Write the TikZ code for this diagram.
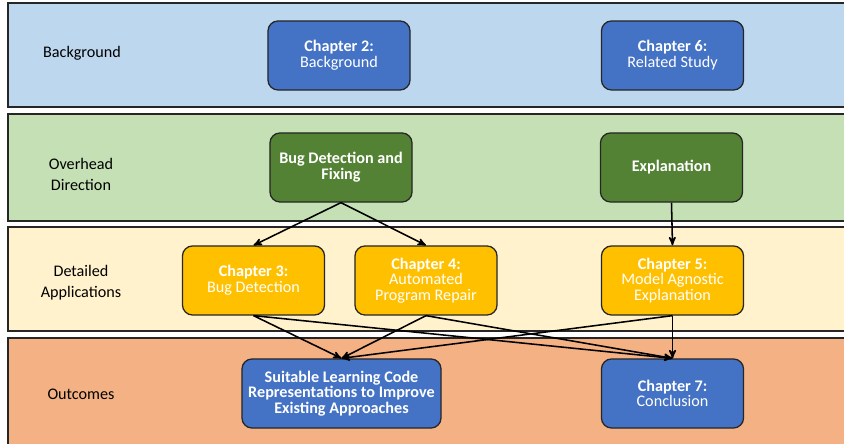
\documentclass[tikz,border=0pt]{standalone}
\usepackage{fontspec}
\setmainfont{Carlito}
\usetikzlibrary{arrows}

\definecolor{bandblue}{HTML}{BDD7EE}
\definecolor{bandgreen}{HTML}{C5E0B4}
\definecolor{bandyellow}{HTML}{FFF2CC}
\definecolor{bandorange}{HTML}{F4B183}
\definecolor{boxblue}{HTML}{4472C4}
\definecolor{boxgreen}{HTML}{548235}
\definecolor{boxgold}{HTML}{FFC000}
\definecolor{edgegray}{HTML}{262626}

\begin{document}
\begin{tikzpicture}[x=0.025cm,y=-0.025cm,->,>=stealth',line width=1.1pt,
	band/.style={draw=edgegray,line width=1.2pt},
	main node/.style={rectangle,rounded corners=0.25cm,draw=edgegray,line width=0.9pt,text=white,align=center,minimum width=3.55cm,minimum height=1.725cm,font=\fontsize{11.5}{11.2}\selectfont},
	row label/.style={align=center,font=\fontsize{11.5}{15}\selectfont}]

	\useasboundingbox (0,0) rectangle (844,444);

	%bands
	\fill[white] (0,0) rectangle (844,444);
	\draw[band,fill=bandblue,-] (8,3) rectangle (852,107);
	\draw[band,fill=bandgreen,-] (8,114) rectangle (852,221);
	\draw[band,fill=bandyellow,-] (8,227) rectangle (852,331);
	\draw[band,fill=bandorange,-] (8,338) rectangle (852,450);

	%row labels
	\node[row label] (BG) at (82,53) {Background};
	\node[row label] (OD) at (81,174) {Overhead \\ Direction};
	\node[row label] (DA) at (81,283) {Detailed \\ Applications};
	\node[row label] (OC) at (81,394) {Outcomes};

	%nodes
	\node[main node, fill=boxblue] (Ch2) at (339,55.5) {\textbf{Chapter 2:} \\ Background};
	\node[main node, fill=boxblue] (Ch6) at (672.5,55.5) {\textbf{Chapter 6:} \\ Related Study};

	\node[main node, fill=boxgreen, font=\fontsize{11.5}{11.2}\selectfont\bfseries] (BDF) at (341,167.5) {Bug Detection and \\ Fixing};
	\node[main node, fill=boxgreen, font=\fontsize{11.5}{11.2}\selectfont\bfseries] (Expl) at (671.5,167.5) {Explanation};

	\node[main node, fill=boxgold] (Ch3) at (253.5,280.5) {\textbf{Chapter 3:} \\ Bug Detection};
	\node[main node, fill=boxgold] (Ch4) at (426,280.5) {\textbf{Chapter 4:} \\ Automated \\ Program Repair};
	\node[main node, fill=boxgold] (Ch5) at (672.5,280.5) {\textbf{Chapter 5:} \\ Model Agnostic \\ Explanation};

	\node[main node, fill=boxblue, minimum width=4.975cm, font=\fontsize{11.5}{11.2}\selectfont\bfseries] (SLC) at (341.5,393.5) {Suitable Learning Code \\ Representations to Improve \\ Existing Approaches};
	\node[main node, fill=boxblue] (Ch7) at (672.5,393.5) {\textbf{Chapter 7:} \\ Conclusion};

	%edges from overhead direction
	\path
		(BDF.south) edge (Ch3.north)
		(BDF.south) edge (Ch4.north)
		(Expl.south) edge (Ch5.north);

	%edges to outcomes
	\path
		(Ch3.south) edge (SLC.north)
		(Ch3.south) edge (Ch7.north)
		(Ch4.south) edge (SLC.north)
		(Ch4.south) edge (Ch7.north)
		(Ch5.south) edge (SLC.north)
		(Ch5.south) edge (Ch7.north);

\end{tikzpicture}
\end{document}
